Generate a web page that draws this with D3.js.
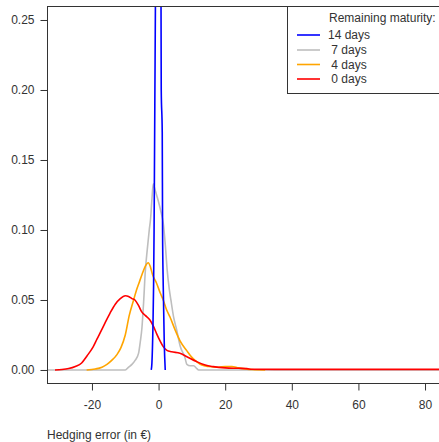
<!DOCTYPE html>
<html>
<head>
<meta charset="utf-8">
<script src="https://cdn.jsdelivr.net/npm/d3@7"></script>
<style>
  body { margin: 0; background: #fff; }
  svg text { font-family: "Liberation Sans", Arial, sans-serif; white-space: pre; }
</style>
</head>
<body>
<div class="densityPlot"></div>
<script>
// Density of hedging error: [error in €, density]
const days14 = [[-2.2, 0], [-2.0, 0.005], [-1.7, 0.03], [-1.5, 0.06], [-1.35, 0.1], [-1.2, 0.16],
    [-1.05, 0.22], [-0.9, 0.28], [-0.5, 0.45], [0, 0.5], [0.5, 0.45], [0.7, 0.3], [0.8, 0.2],
    [1.1, 0.17], [1.2, 0.1], [1.4, 0.06], [1.7, 0.02], [2.0, 0]];
const days7 = [[-34, 0], [-10, 0], [-9, 0.002], [-8, 0.004], [-7, 0.007], [-6, 0.012], [-5.5, 0.02],
    [-5, 0.03], [-4.5, 0.048], [-4, 0.07], [-3.4, 0.086], [-2.8, 0.1], [-2.4, 0.108], [-2, 0.122],
    [-1.6, 0.133], [-1.2, 0.13], [-0.6, 0.125], [0, 0.12], [0.8, 0.112], [1.4, 0.105], [2, 0.09],
    [2.6, 0.071], [3.2, 0.058], [3.7, 0.05], [4.5, 0.038], [5.4, 0.029], [6.5, 0.017], [7.9, 0.009],
    [8.5, 0.004], [9.5, 0.003], [10.5, 0.003], [11.5, 0.001], [12, 0], [92, 0]];
const days4 = [[-21.6, 0], [-19, 0.0007], [-17, 0.002], [-15.5, 0.004], [-14, 0.007], [-12.5, 0.011],
    [-11.3, 0.016], [-10, 0.025], [-8.8, 0.039], [-7.5, 0.05], [-6.5, 0.058], [-5.9, 0.062],
    [-5, 0.068], [-4, 0.074], [-3.1, 0.0766], [-2.5, 0.074], [-1.8, 0.068], [-0.6, 0.062],
    [0.5, 0.055], [1.4, 0.05], [2.4, 0.043], [3.4, 0.038], [4.9, 0.029], [6.4, 0.021], [8.4, 0.014],
    [10, 0.009], [11.4, 0.006], [13, 0.0035], [15, 0.0025], [18, 0.002], [20, 0.0025], [22, 0.0025],
    [24, 0.0015], [26, 0.0008], [28, 0.0003], [32, 0]];
const days0 = [[-31.1, 0], [-29, 0.0003], [-27, 0.001], [-25, 0.0025], [-23.1, 0.005], [-21.5, 0.01],
    [-19.6, 0.0167], [-18.5, 0.022], [-17.1, 0.0286], [-16, 0.034], [-14.6, 0.0405], [-13, 0.047],
    [-11.5, 0.051], [-10, 0.053], [-9, 0.0525], [-8, 0.051], [-7.1, 0.05], [-6, 0.046], [-5.1, 0.0417],
    [-4, 0.039], [-2.6, 0.0357], [-1.5, 0.031], [-0.6, 0.026], [0.4, 0.021], [1.4, 0.0167],
    [2.5, 0.014], [3.9, 0.013], [6.4, 0.012], [8.5, 0.0095], [11.4, 0.006], [14, 0.0035],
    [16.4, 0.0024], [20, 0.0015], [24, 0.0012], [26.5, 0.001], [28, 0.0005], [40, 0.0004], [92, 0.0004]];

const seriesNames = ["14 days", " 7 days", " 4 days", " 0 days"];
const seriesColors = ["#0000ff", "#bebebe", "#ffa500", "#ff0000"];
// draw order: grey first so the others sit on top of its zero line
const drawOrder = [[days7, 1], [days4, 2], [days0, 3], [days14, 0]];

const xTicks = [-20, 0, 20, 40, 60, 80];
const yTicks = [0.00, 0.05, 0.10, 0.15, 0.20, 0.25];

const width = 439, height = 442;
const box = { left: 47, top: 6, right: 457, bottom: 383 };

const svg = d3.select(".densityPlot")
    .append("svg")
    .attr("width", width)
    .attr("height", height);

const xScale = d3.scaleLinear().domain([-33.5, 89.6]).range([box.left, box.right]);
const yScale = d3.scaleLinear().domain([-0.0093, 0.26]).range([box.bottom, box.top]);

svg.append("clipPath").attr("id", "plotClip")
    .append("rect")
    .attr("x", box.left).attr("y", box.top)
    .attr("width", box.right - box.left).attr("height", box.bottom - box.top);

// Curves
const line = d3.line()
    .x(d => xScale(d[0]))
    .y(d => yScale(d[1]))
    .curve(d3.curveMonotoneX);

svg.append("g")
    .attr("clip-path", "url(#plotClip)")
    .selectAll("path")
    .data(drawOrder)
    .join("path")
    .attr("d", d => line(d[0]))
    .attr("fill", "none")
    .attr("stroke", d => seriesColors[d[1]])
    .attr("stroke-width", 1.6);

// Plot box
svg.append("rect")
    .attr("x", box.left + 0.5).attr("y", box.top + 0.5)
    .attr("width", box.right - box.left).attr("height", box.bottom - box.top)
    .attr("fill", "none")
    .attr("stroke", "#333");

// Axes
const xAxis = d3.axisBottom(xScale).tickValues(xTicks).tickSize(7).tickPadding(10).tickFormat(d3.format("d"));
const yAxis = d3.axisLeft(yScale).tickValues(yTicks).tickSize(7).tickPadding(6).tickFormat(d3.format(".2f"));

const gx = svg.append("g")
    .attr("transform", "translate(0," + (box.bottom + 0.5) + ")")
    .call(xAxis);
const gy = svg.append("g")
    .attr("transform", "translate(" + (box.left + 0.5) + ",0)")
    .call(yAxis);
[gx, gy].forEach(g => {
    g.select(".domain").remove();
    g.selectAll("line").attr("stroke", "#333");
    g.selectAll("text")
        .attr("fill", "#333")
        .style("font-family", "'Liberation Sans', Arial, sans-serif")
        .style("font-size", "12px");
});
gx.selectAll("text").text(d => d < 0 ? "-" + Math.abs(d) : d);

// x label
svg.append("text")
    .attr("x", 47)
    .attr("y", 439)
    .text("Hedging error (in €)")
    .attr("fill", "#333")
    .style("font-size", "12px");

// Legend
const legend = svg.append("g");
legend.append("rect")
    .attr("x", 287.5).attr("y", 6.5)
    .attr("width", 200).attr("height", 87)
    .attr("fill", "#fff")
    .attr("stroke", "#333");
legend.append("text")
    .attr("x", 329).attr("y", 22)
    .text("Remaining maturity:")
    .attr("fill", "#333")
    .style("font-size", "12px");
const legendY = [35, 50, 64.5, 79];
legend.selectAll(".legend-line")
    .data(seriesNames)
    .join("line")
    .attr("class", "legend-line")
    .attr("x1", 297).attr("x2", 320)
    .attr("y1", (d, i) => legendY[i]).attr("y2", (d, i) => legendY[i])
    .attr("stroke", (d, i) => seriesColors[i])
    .attr("stroke-width", 1.6);
legend.selectAll(".legend-text")
    .data(seriesNames)
    .join("text")
    .attr("class", "legend-text")
    .attr("x", 328)
    .attr("y", (d, i) => legendY[i] + 4)
    .text(d => d)
    .attr("fill", "#333")
    .style("font-size", "12px");
</script>
</body>
</html>
